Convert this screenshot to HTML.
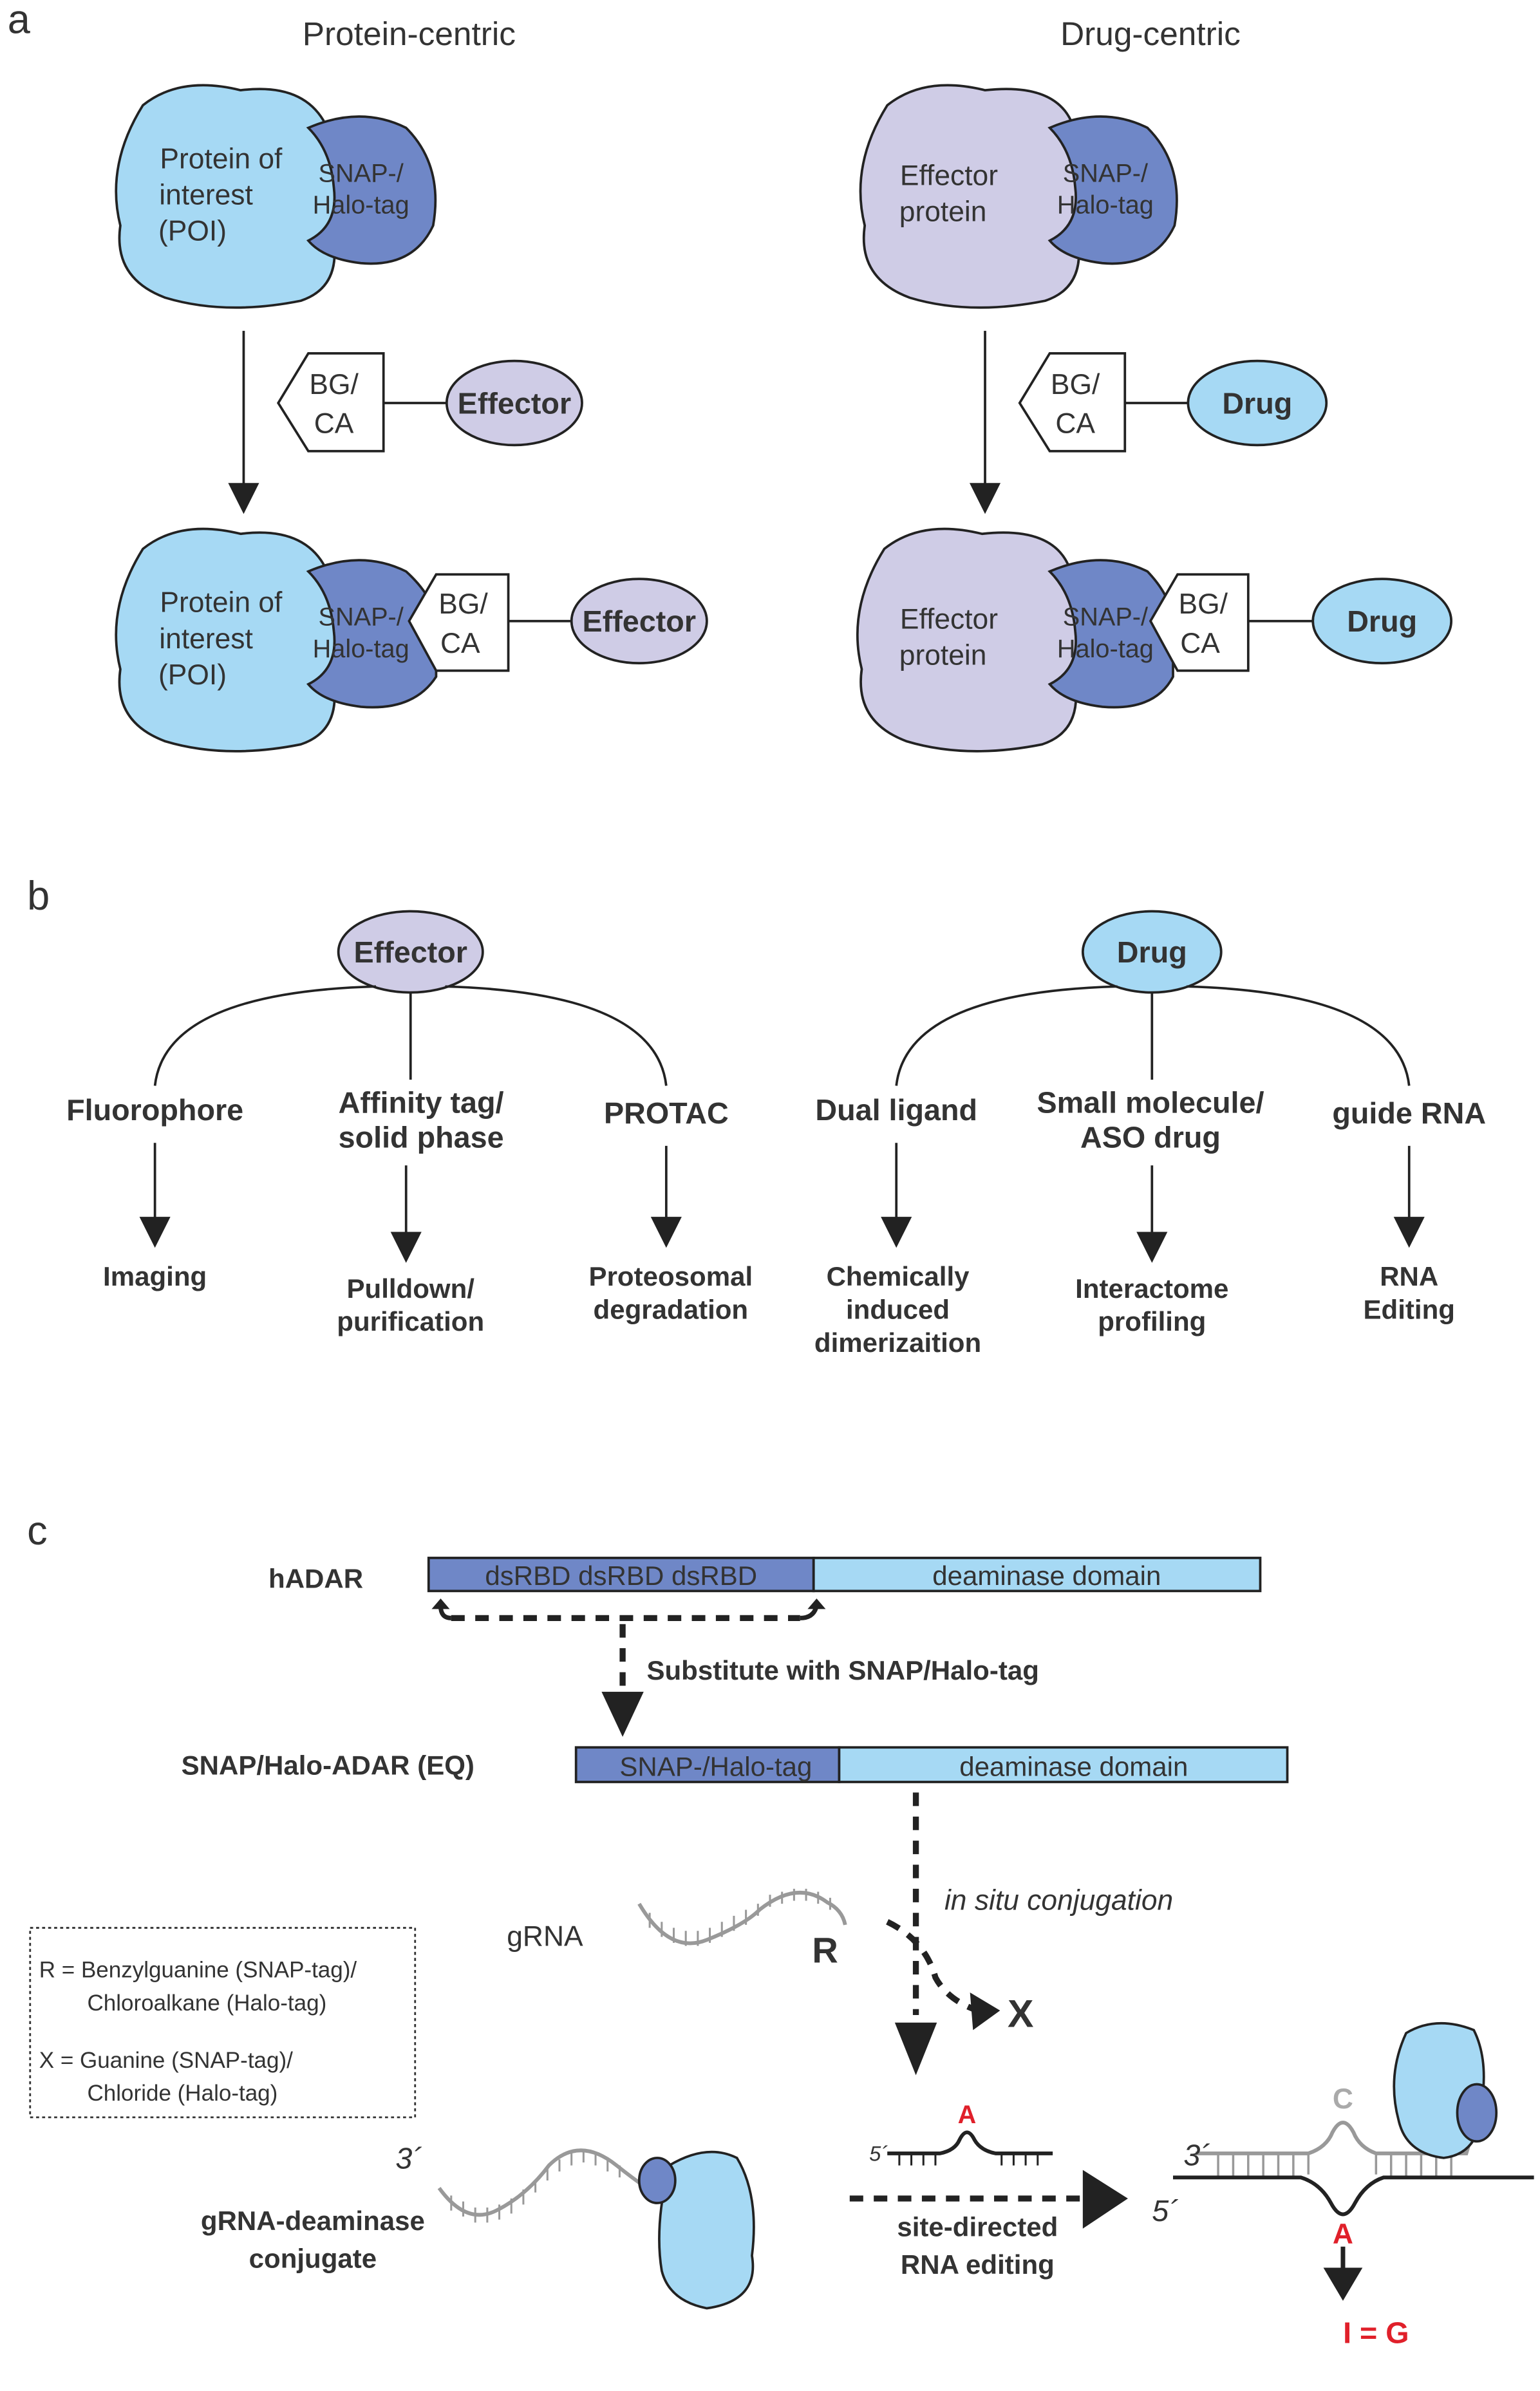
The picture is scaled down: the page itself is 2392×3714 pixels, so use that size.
<!DOCTYPE html>
<html><head><meta charset="utf-8"><style>html,body{margin:0;padding:0;background:#fff}svg{display:block}text{font-family:"Liberation Sans",Arial,sans-serif}</style></head><body>
<svg width="2392" height="3714" viewBox="0 0 1024 1590" xmlns="http://www.w3.org/2000/svg">
<g stroke="#222" stroke-width="1.6">
<path d="M95,70 Q120,50 160,60 Q200,55 215,80 Q230,120 220,150 Q230,190 200,200 Q150,210 110,198 Q75,185 80,150 Q70,110 95,70z" fill="#a6d9f4"/>
<path d="M205,85 Q240,70 270,85 Q295,110 288,150 Q275,178 240,175 Q215,172 205,160 Q225,150 222,125 Q220,100 205,85z" fill="#6f87c7"/>
<path d="M95,365 Q120,345 160,355 Q200,350 215,375 Q230,415 220,445 Q230,485 200,495 Q150,505 110,493 Q75,480 80,445 Q70,405 95,365z" fill="#a6d9f4"/>
<path d="M205,380 Q240,365 270,380 Q292,400 290,420 L290,450 Q275,473 240,470 Q215,467 205,455 Q225,445 222,420 Q220,395 205,380z" fill="#6f87c7"/>
<polygon points="272,413 290,382 338,382 338,446 290,446" fill="#fff"/>
<line x1="338" y1="413" x2="380" y2="413"/>
<ellipse cx="425" cy="413" rx="45" ry="28" fill="#cfcce6"/>
<line x1="162" y1="220" x2="162" y2="325"/>
<polygon points="153,322 171,322 162,340" fill="#222"/>
<polygon points="185,268 205,235 255,235 255,300 205,300" fill="#fff"/>
<line x1="255" y1="268" x2="298" y2="268"/>
<ellipse cx="342" cy="268" rx="45" ry="28" fill="#cfcce6"/>
<path d="M590,70 Q615,50 655,60 Q700,55 712,80 Q725,120 715,150 Q725,190 695,200 Q645,210 605,198 Q570,185 575,150 Q565,110 590,70z" fill="#cfcce6"/>
<path d="M698,85 Q733,70 763,85 Q788,110 781,150 Q768,178 733,175 Q708,172 698,160 Q718,150 715,125 Q713,100 698,85z" fill="#6f87c7"/>
<line x1="655" y1="220" x2="655" y2="325"/>
<polygon points="646,322 664,322 655,340" fill="#222"/>
<polygon points="678,268 698,235 748,235 748,300 698,300" fill="#fff"/>
<line x1="748" y1="268" x2="790" y2="268"/>
<ellipse cx="836" cy="268" rx="46" ry="28" fill="#a6d9f4"/>
<path d="M588,365 Q613,345 653,355 Q698,350 710,375 Q723,415 713,445 Q723,485 693,495 Q643,505 603,493 Q568,480 573,445 Q563,405 588,365z" fill="#cfcce6"/>
<path d="M698,380 Q733,365 763,380 Q782,400 780,420 L780,450 Q768,473 733,470 Q708,467 698,455 Q718,445 715,420 Q713,395 698,380z" fill="#6f87c7"/>
<polygon points="765,413 783,382 830,382 830,446 783,446" fill="#fff"/>
<line x1="830" y1="413" x2="873" y2="413"/>
<ellipse cx="919" cy="413" rx="46" ry="28" fill="#a6d9f4"/>
<ellipse cx="273" cy="633" rx="48" ry="27" fill="#cfcce6"/>
<ellipse cx="766" cy="633" rx="46" ry="27" fill="#a6d9f4"/>
<path d="M250,656 Q110,660 103,722" fill="none"/>
<path d="M296,656 Q436,660 443,722" fill="none"/>
<line x1="273" y1="660" x2="273" y2="718"/>
<path d="M743,656 Q603,660 596,722" fill="none"/>
<path d="M789,656 Q930,660 937,722" fill="none"/>
<line x1="766" y1="660" x2="766" y2="718"/>
<g fill="#222">
<line x1="103" y1="760" x2="103" y2="812"/><polygon points="94,810 112,810 103,828"/>
<line x1="270" y1="775" x2="270" y2="822"/><polygon points="261,820 279,820 270,838"/>
<line x1="443" y1="762" x2="443" y2="812"/><polygon points="434,810 452,810 443,828"/>
<line x1="596" y1="760" x2="596" y2="812"/><polygon points="587,810 605,810 596,828"/>
<line x1="766" y1="775" x2="766" y2="822"/><polygon points="757,820 775,820 766,838"/>
<line x1="937" y1="762" x2="937" y2="812"/><polygon points="928,810 946,810 937,828"/>
</g>
<rect x="285" y="1036" width="256" height="22" fill="#6f87c7"/>
<rect x="541" y="1036" width="297" height="22" fill="#a6d9f4"/>
<rect x="383" y="1162" width="175" height="23" fill="#6f87c7"/>
<rect x="558" y="1162" width="298" height="23" fill="#a6d9f4"/>
</g>
<g stroke="#222" stroke-width="4" stroke-dasharray="9,7" fill="none">
<path d="M300,1076 L532,1076"/>
<line x1="414" y1="1080" x2="414" y2="1122"/>
<line x1="609" y1="1192" x2="609" y2="1340"/>
<path d="M590,1278 Q615,1290 622,1315 Q630,1330 650,1337"/>
<line x1="565" y1="1462" x2="718" y2="1462"/>
</g>
<g stroke="#222" stroke-width="3" fill="none">
<path d="M300,1076 Q293,1076 293,1068"/>
<path d="M532,1076 Q541,1076 543,1068"/>
</g>
<g fill="#222">
<polygon points="287,1070 299,1070 293,1063"/>
<polygon points="537,1070 549,1070 543,1063"/>
<polygon points="400,1125 428,1125 414,1155"/>
<polygon points="595,1345 623,1345 609,1380"/>
<polygon points="645,1325 665,1337 647,1350"/>
<polygon points="720,1443 720,1482 750,1462"/>
<polygon points="880,1508 906,1508 893,1530"/>
</g>
<line x1="893" y1="1494" x2="893" y2="1510" stroke="#222" stroke-width="3"/>
<rect x="20" y="1282" width="256" height="126" fill="none" stroke="#333" stroke-width="1.2" stroke-dasharray="2,2"/>
<g fill="none" stroke="#999" stroke-width="2.5">
<path d="M425,1266 Q445,1300 470,1290 Q495,1280 505,1270 Q530,1250 550,1265 Q560,1270 562,1280"/>
<path d="M292,1455 Q310,1480 330,1470 Q350,1460 365,1440 Q385,1420 410,1440 Q420,1448 430,1455"/>
<path d="M795,1432 L870,1432 Q882,1428 886,1418 Q893,1405 900,1418 Q904,1428 915,1432 L975,1432 L978,1422"/>
</g>
<g stroke="#999" stroke-width="1.3">
<path d="M432,1272v10M440,1278v10M448,1282v10M456,1284v10M464,1284v10M472,1282v10M480,1278v10M488,1274v10M496,1270v10M504,1266v8M512,1260v8M520,1258v8M528,1256v8M536,1256v8M544,1258v8M552,1262v8"/>
<path d="M300,1460v10M308,1464v10M316,1468v10M324,1468v10M332,1466v10M340,1462v10M348,1456v10M356,1450v8M364,1442v8M372,1436v8M380,1432v8M388,1430v8M396,1432v8M404,1436v8M412,1440v8"/>
<path d="M810,1432v16M820,1432v16M830,1432v16M840,1432v16M850,1432v16M860,1432v16M870,1432v14M915,1432v14M925,1432v16M935,1432v16M945,1432v16M955,1432v16M965,1432v16" stroke-width="1.5"/>
</g>
<g fill="none" stroke="#222" stroke-width="2.5">
<path d="M590,1432 L625,1432 Q635,1430 638,1423 Q643,1413 648,1423 Q652,1430 662,1432 L700,1432"/>
<path d="M780,1448 L865,1448 Q878,1452 885,1465 Q893,1480 901,1465 Q908,1452 920,1448 L1020,1448"/>
</g>
<g stroke="#222" stroke-width="1.3"><path d="M598,1432v8M606,1432v8M614,1432v8M622,1432v8M666,1432v8M674,1432v8M682,1432v8M690,1432v8"/></g>
<g stroke="#222" stroke-width="1.6">
<path d="M445,1440 Q470,1425 490,1435 Q505,1460 500,1500 Q505,1530 470,1535 Q445,1530 440,1510 Q435,1480 445,1440z" fill="#a6d9f4"/>
<ellipse cx="437" cy="1450" rx="12" ry="15" fill="#6f87c7"/>
<path d="M935,1352 Q955,1340 980,1350 Q990,1370 985,1400 Q985,1432 960,1435 Q935,1432 930,1410 Q922,1380 935,1352z" fill="#a6d9f4"/>
<ellipse cx="982" cy="1405" rx="13" ry="19" fill="#6f87c7"/>
</g>
<g fill="#333">
<text x="5" y="22" font-size="27">a</text>
<text x="272" y="30" font-size="22" text-anchor="middle">Protein-centric</text>
<text x="765" y="30" font-size="22" text-anchor="middle">Drug-centric</text>
<g font-size="19" text-anchor="middle">
<text x="147" y="112">Protein of</text><text x="137" y="136">interest</text><text x="128" y="160">(POI)</text>
<text x="147" y="407">Protein of</text><text x="137" y="431">interest</text><text x="128" y="455">(POI)</text>
<text x="631" y="123">Effector</text><text x="627" y="147">protein</text>
<text x="631" y="418">Effector</text><text x="627" y="442">protein</text>
<text x="222" y="262">BG/</text><text x="222" y="288">CA</text>
<text x="715" y="262">BG/</text><text x="715" y="288">CA</text>
<text x="308" y="408">BG/</text><text x="306" y="434">CA</text>
<text x="800" y="408">BG/</text><text x="798" y="434">CA</text>
</g>
<g font-size="17" text-anchor="middle">
<text x="240" y="121">SNAP-/</text><text x="240" y="142">Halo-tag</text>
<text x="735" y="121">SNAP-/</text><text x="735" y="142">Halo-tag</text>
<text x="240" y="416">SNAP-/</text><text x="240" y="437">Halo-tag</text>
<text x="735" y="416">SNAP-/</text><text x="735" y="437">Halo-tag</text>
</g>
<g font-size="20" font-weight="bold" text-anchor="middle">
<text x="342" y="275">Effector</text><text x="836" y="275">Drug</text>
<text x="425" y="420">Effector</text><text x="919" y="420">Drug</text>
<text x="273" y="640">Effector</text><text x="766" y="640">Drug</text>
<text x="103" y="745">Fluorophore</text>
<text x="280" y="740">Affinity tag/</text><text x="280" y="763">solid phase</text>
<text x="443" y="747">PROTAC</text>
<text x="596" y="745">Dual ligand</text>
<text x="765" y="740">Small molecule/</text><text x="765" y="763">ASO drug</text>
<text x="937" y="747">guide RNA</text>
</g>
<g font-size="18" font-weight="bold" text-anchor="middle">
<text x="103" y="855">Imaging</text>
<text x="273" y="863">Pulldown/</text><text x="273" y="885">purification</text>
<text x="446" y="855">Proteosomal</text><text x="446" y="877">degradation</text>
<text x="597" y="855">Chemically</text><text x="597" y="877">induced</text><text x="597" y="899">dimerizaition</text>
<text x="766" y="863">Interactome</text><text x="766" y="885">profiling</text>
<text x="937" y="855">RNA</text><text x="937" y="877">Editing</text>
<text x="210" y="1056">hADAR</text>
<text x="218" y="1180">SNAP/Halo-ADAR (EQ)</text>
<text x="208" y="1483">gRNA-deaminase</text><text x="208" y="1508">conjugate</text>
<text x="650" y="1487">site-directed</text><text x="650" y="1512">RNA editing</text>
</g>
<text x="18" y="605" font-size="27">b</text>
<text x="18" y="1027" font-size="27">c</text>
<text x="430" y="1117" font-size="18" font-weight="bold">Substitute with SNAP/Halo-tag</text>
<g font-size="18" text-anchor="middle">
<text x="413" y="1054">dsRBD  dsRBD  dsRBD</text>
<text x="696" y="1054">deaminase domain</text>
<text x="476" y="1181">SNAP-/Halo-tag</text>
<text x="714" y="1181">deaminase domain</text>
</g>
<text x="628" y="1270" font-size="19" font-style="italic">in situ conjugation</text>
<text x="337" y="1294" font-size="19">gRNA</text>
<text x="540" y="1305" font-size="24" font-weight="bold">R</text>
<text x="670" y="1348" font-size="26" font-weight="bold">X</text>
<g font-size="15">
<text x="26" y="1315">R = Benzylguanine (SNAP-tag)/</text>
<text x="58" y="1337">Chloroalkane (Halo-tag)</text>
<text x="26" y="1375">X = Guanine (SNAP-tag)/</text>
<text x="58" y="1397">Chloride (Halo-tag)</text>
</g>
<g font-size="20" font-style="italic">
<text x="263" y="1442">3´</text>
<text x="578" y="1437" font-size="14">5´</text>
<text x="787" y="1440">3´</text>
<text x="766" y="1477">5´</text>
</g>
<text x="643" y="1412" font-size="17" font-weight="bold" fill="#e0202a" text-anchor="middle">A</text>
<text x="893" y="1402" font-size="19" font-weight="bold" fill="#aaa" text-anchor="middle">C</text>
<text x="893" y="1492" font-size="19" font-weight="bold" fill="#e0202a" text-anchor="middle">A</text>
<text x="915" y="1558" font-size="20" font-weight="bold" fill="#e0202a" text-anchor="middle">I = G</text>
</g>
</svg>
</body></html>
